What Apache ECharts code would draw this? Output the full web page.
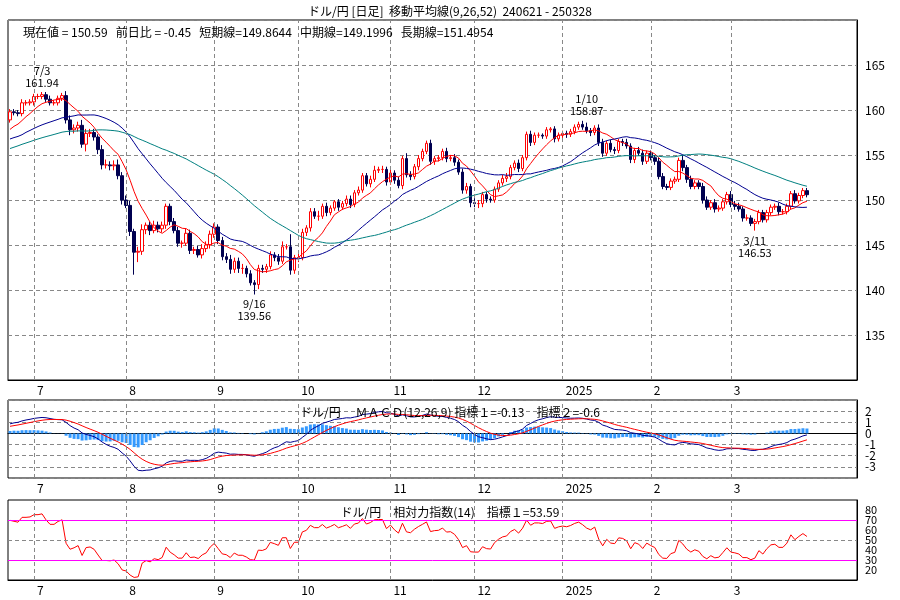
<!DOCTYPE html>
<html><head><meta charset="utf-8">
<script src="https://cdn.jsdelivr.net/npm/echarts@6/dist/echarts.min.js"></script>
<style>body{margin:0;background:#fff}#main{width:900px;height:600px}</style>
</head><body><div id="main"></div>
<script>
// closes before the visible range, only used to warm up the averages
var preCloses = [151.6,151.8,151.8,152.0,153.2,153.3,153.2,154.2,154.6,154.6,154.6,154.6,154.8,154.8,155.4,155.6,158.3,156.3,156.7,157.8,156.9,153.7,152.9,153.8,154.7,155.6,155.8,155.7,156.2,155.9,153.9,155.4,155.7,156.1,156.8,157.0,156.9,156.9,157.4,157.2,157.3,155.6,156.1,155.6,156.6,157.4,157.2,157.0,157.7,157.8,158.1,159.0];
var firstOpen = 158.9;
var closes = [
159.8,159.7,159.6,160.8,160.8,160.9,
161.5,161.5,161.7,161.2,160.8,160.8,161.3,161.6,158.9,157.8,158.0,158.3,156.2,157.4,157.5,157.0,155.6,153.9,153.9,153.8,153.9,152.7,150.0,
149.4,146.5,144.2,144.3,146.7,147.2,146.6,147.2,146.8,147.2,149.3,147.6,146.6,145.2,145.2,146.3,144.4,144.5,143.9,144.6,145.0,146.2,
147.0,145.5,143.7,143.4,142.3,143.2,142.4,142.4,141.8,140.8,140.6,142.4,142.3,142.6,143.9,143.6,143.2,144.8,144.8,142.2,143.6,
143.6,146.4,146.9,148.7,148.2,148.2,149.3,148.6,149.1,149.8,149.2,149.6,150.1,149.5,150.8,151.1,152.7,151.8,152.3,153.3,153.4,153.4,152.0,
153.0,152.2,151.6,154.6,152.8,152.6,153.7,154.6,155.4,156.3,154.3,154.6,154.7,155.4,154.6,154.7,154.2,153.1,151.1,151.5,149.7,
149.6,149.6,150.6,150.1,150.0,151.2,151.9,152.4,152.6,153.6,154.1,153.5,154.7,157.3,156.4,157.2,157.2,157.1,157.8,157.9,156.8,157.2,
157.4,157.3,157.6,158.1,158.4,158.1,157.7,157.5,158.0,156.4,155.2,156.3,155.6,155.5,156.5,156.4,156.0,154.5,155.5,155.2,154.3,155.2,
154.7,154.3,152.6,151.5,151.4,152.1,152.3,154.4,153.6,152.3,151.5,151.9,151.5,150.0,149.2,149.7,149.0,149.1,149.8,150.6,
149.5,149.3,149.0,148.0,148.0,147.4,147.6,148.6,147.8,148.6,149.2,149.3,148.7,148.7,149.3,150.7,149.9,150.5,151.04,150.59];
var wickUp = [
0.3,0.3,0.3,0.4,0.3,0.3,
0.3,0.3,0.3,0.3,0.4,0.3,0.3,0.3,0.5,0.5,0.4,0.4,0.6,0.5,0.4,0.4,0.3,0.5,0.6,0.4,0.5,0.6,0.4,
0.5,0.5,0.3,0.5,0.6,0.3,0.4,0.5,0.4,0.4,0.3,0.3,0.4,0.4,0.3,0.5,0.4,0.3,0.4,0.5,0.4,0.4,
0.4,0.3,0.4,0.4,0.5,0.4,0.4,0.5,0.3,0.4,0.3,0.4,0.4,0.3,0.4,0.3,0.4,0.6,0.3,1.4,0.3,
0.5,0.4,0.3,0.4,0.4,0.6,0.3,0.4,0.3,0.2,0.3,0.3,0.4,0.4,0.3,0.4,0.3,0.3,0.4,0.5,0.3,0.4,0.3,
0.4,0.3,0.4,0.3,0.6,0.4,0.3,0.4,0.3,0.3,0.4,0.3,0.3,0.3,0.4,0.3,0.4,0.3,0.4,0.4,0.3,
0.5,0.4,0.3,0.3,0.3,0.3,0.3,0.4,0.4,0.3,0.3,0.4,0.3,0.3,0.4,0.3,0.3,0.2,0.3,0.2,0.3,0.3,
0.3,0.3,0.3,0.3,0.3,0.4,0.5,0.3,0.3,0.4,0.4,0.3,0.4,0.3,0.3,0.3,0.4,0.3,0.3,0.4,0.4,0.3,
0.3,0.3,0.4,0.4,0.3,0.3,0.3,0.3,0.6,0.3,0.4,0.3,0.3,0.4,0.4,0.3,0.4,0.3,0.3,0.3,
0.4,0.4,0.4,0.3,0.4,0.3,0.3,0.3,0.3,0.3,0.3,0.3,0.4,0.3,0.3,0.3,0.4,0.3,0.3,0.3];
var wickDn = [
0.3,0.3,0.3,0.3,0.3,0.3,
0.4,0.3,0.3,0.3,0.3,0.3,0.3,0.3,0.4,0.6,0.4,0.4,0.4,0.8,0.4,0.4,0.5,0.5,0.4,0.5,0.5,0.4,0.5,
0.3,0.5,2.5,1.1,0.4,0.5,0.5,0.3,0.4,0.4,0.4,0.4,0.3,0.4,0.5,0.3,0.4,0.4,0.3,0.4,0.4,0.4,
0.4,0.4,0.4,0.4,0.5,0.4,0.5,0.6,0.4,0.3,1.1,0.5,0.4,0.4,0.3,0.4,0.4,0.3,0.3,0.5,0.4,
0.5,0.3,0.4,0.4,0.3,0.5,0.3,0.4,0.3,0.3,0.4,0.3,0.3,0.4,0.3,0.3,0.3,0.3,0.4,0.3,0.3,0.4,0.4,
0.3,0.4,0.3,0.4,0.3,0.4,0.3,0.4,0.3,0.3,0.4,0.4,0.3,0.3,0.4,0.3,0.4,0.3,0.4,0.4,0.5,
0.4,0.5,0.4,0.4,0.3,0.3,0.3,0.3,0.4,0.3,0.3,0.4,0.3,0.3,0.4,0.3,0.3,0.3,0.3,0.3,0.4,0.3,
0.3,0.4,0.3,0.3,0.3,0.3,0.3,0.4,0.3,0.4,0.4,0.3,0.3,0.4,0.3,0.4,0.3,0.4,0.4,0.3,0.4,0.3,
0.3,0.4,0.3,0.3,0.3,0.3,0.3,0.3,0.4,0.4,0.3,0.3,0.3,0.4,0.3,0.3,0.4,0.3,0.3,0.3,
0.3,0.4,0.3,0.4,0.3,0.3,0.8,0.3,0.3,0.3,0.3,0.3,0.4,0.3,0.3,0.3,0.3,0.3,0.3,0.3];
var annotations = [['7/3',161.94,'top'],['9/16',139.56,'bottom'],['1/10',158.87,'top'],['3/11',146.53,'bottom']];
var headerText = 'ドル/円 [日足]  移動平均線(9,26,52)  240621 - 250328';
var infoText = '現在値 = 150.59   前日比 = -0.45   短期線=149.8644   中期線=149.1996   長期線=151.4954';
var macdText = 'ドル/円　 ＭＡＣＤ(12,26,9) 指標１=-0.13　指標２=-0.6';
var rsiText = 'ドル/円　相対力指数(14)　指標１=53.59';
var padSlots = 12;

// dates: weekdays from 2024-06-21, skipping Jan 1
var dates = [];
var d = new Date(2024, 5, 21);
while (dates.length < closes.length) {
  var wd = d.getDay();
  if (wd !== 0 && wd !== 6 && !(d.getMonth() === 0 && d.getDate() === 1)) {
    dates.push((d.getMonth() + 1) + '/' + d.getDate() + '/' + d.getFullYear());
  }
  d.setDate(d.getDate() + 1);
}
var cats = dates.slice();
for (var p = 0; p < padSlots; p++) cats.push('pad' + p);
var monthStart = {};
for (var i = 1; i < dates.length; i++) {
  var m = dates[i].split('/')[0];
  if (m !== dates[i - 1].split('/')[0]) monthStart[i] = m === '1' ? '2025' : m;
}

var ohlc = [];
for (var i = 0; i < closes.length; i++) {
  var o = i === 0 ? firstOpen : closes[i - 1];
  var hi = Math.max(o, closes[i]) + wickUp[i];
  var lo = Math.min(o, closes[i]) - wickDn[i];
  ohlc.push([o, closes[i], lo, hi]);
}
var all = preCloses.concat(closes), off = preCloses.length;
function ma(n) {
  var r = [];
  for (var i = 0; i < closes.length; i++) {
    var s = 0, k = i + off;
    for (var j = k - n + 1; j <= k; j++) s += all[Math.max(j, 0)];
    r.push(+(s / n).toFixed(3));
  }
  return r;
}
function ema(arr, n) {
  var a = 2 / (n + 1), r = [arr[0]];
  for (var i = 1; i < arr.length; i++) r.push(r[i - 1] + a * (arr[i] - r[i - 1]));
  return r;
}
var e12 = ema(all, 12), e26 = ema(all, 26);
var dif = all.map(function (v, i) { return e12[i] - e26[i]; });
var dea = ema(dif, 9);
var difV = dif.slice(off).map(function (v) { return +v.toFixed(3); });
var deaV = dea.slice(off).map(function (v) { return +v.toFixed(3); });
var histV = difV.map(function (v, i) { return +(v - deaV[i]).toFixed(3); });
// Wilder RSI(14)
var ag = 0, al = 0, rsiAll = [];
for (var j = 1; j < all.length; j++) {
  var ch = all[j] - all[j - 1], g = ch > 0 ? ch : 0, l = ch < 0 ? -ch : 0;
  if (j <= 14) { ag += g / 14; al += l / 14; } else { ag = (ag * 13 + g) / 14; al = (al * 13 + l) / 14; }
  rsiAll[j] = 100 * ag / (ag + al);
}
var rsiV = rsiAll.slice(off).map(function (v) { return +v.toFixed(2); });

var font = '"Noto Sans CJK JP", sans-serif';
var monthLines = Object.keys(monthStart).map(function (k) { return { xAxis: +k }; });
function xAx(gi) {
  return {
    type: 'category', gridIndex: gi, data: cats, boundaryGap: true,
    axisLine: { lineStyle: { color: '#000' } }, axisTick: { show: false },
    axisLabel: {
      color: '#000', fontFamily: font, fontSize: 12, margin: 4, align: 'left', padding: [0, 0, 0, 3],
      interval: function (idx) { return monthStart[idx] !== undefined; },
      formatter: function (v, idx) { return monthStart[idx] || ''; }
    },
    splitLine: { show: false }
  };
}
var gridLine = { color: '#888', type: [4, 3], width: 1 };
var ttl = function (t, left, top) {
  return { text: t, left: left, top: top, textStyle: { fontSize: 12, fontWeight: 'normal', color: '#000', fontFamily: font } };
};
var chart = echarts.init(document.getElementById('main'));
chart.setOption({
  animation: false,
  backgroundColor: '#fff',
  textStyle: { fontFamily: font },
  title: [ttl(headerText, 'center', 0), ttl(infoText, 18, 21), ttl(macdText, 'center', 401), ttl(rsiText, 'center', 501)],
  grid: [
    { left: 8, right: 43, top: 20, height: 360, show: true, borderColor: '#000', borderWidth: 1 },
    { left: 8, right: 43, top: 400, height: 78, show: true, borderColor: '#000', borderWidth: 1 },
    { left: 8, right: 43, top: 500, height: 80, show: true, borderColor: '#000', borderWidth: 1 }
  ],
  xAxis: [xAx(0), xAx(1), xAx(2)],
  yAxis: [
    { type: 'value', gridIndex: 0, position: 'right', min: 130, max: 170, interval: 5,
      axisLine: { show: true, lineStyle: { color: '#000' } }, axisTick: { show: false },
      axisLabel: { color: '#000', fontSize: 12, fontFamily: font, margin: 8,
        formatter: function (v) { return v > 130 && v < 170 ? v : ''; } },
      splitLine: { show: true, lineStyle: gridLine } },
    { type: 'value', gridIndex: 1, position: 'right', min: -4, max: 3, interval: 1,
      axisLine: { show: true, lineStyle: { color: '#000' } }, axisTick: { show: false },
      axisLabel: { color: '#000', fontSize: 12, fontFamily: font, margin: 8, lineHeight: 10,
        formatter: function (v) { return v > -4 && v < 3 ? v : ''; } },
      splitLine: { show: true, lineStyle: gridLine } },
    { type: 'value', gridIndex: 2, position: 'right', min: 10, max: 90, interval: 10,
      axisLine: { show: true, lineStyle: { color: '#000' } }, axisTick: { show: false },
      axisLabel: { color: '#000', fontSize: 11, lineHeight: 10, fontFamily: font, margin: 8,
        formatter: function (v) { return v > 10 && v < 90 ? v : ''; } },
      splitLine: { show: false } }
  ],
  series: [
    { type: 'candlestick', xAxisIndex: 0, yAxisIndex: 0, data: ohlc, barWidth: 3,
      itemStyle: { color: '#fff', color0: '#000050', borderColor: '#ff0000', borderColor0: '#000050', borderWidth: 1 },
      markLine: { silent: true, symbol: 'none', label: { show: false }, lineStyle: gridLine, data: monthLines },
      markPoint: { symbol: 'circle', symbolSize: 1, itemStyle: { color: 'transparent' },
        data: annotations.map(function (a) {
          var idx = dates.indexOf(a[0] + '/' + (a[0].split('/')[0] < 6 ? 2025 : 2024));
          return { coord: [idx, a[1]], value: a[0] + '\n' + a[1].toFixed(2),
            label: { show: true, position: a[2], distance: 3, color: '#000', fontSize: 11, lineHeight: 12, fontFamily: font,
              formatter: function (p) { return p.value; } } };
        }) } },
    { type: 'line', xAxisIndex: 0, yAxisIndex: 0, data: ma(9), showSymbol: false, lineStyle: { color: '#ff0000', width: 1 } },
    { type: 'line', xAxisIndex: 0, yAxisIndex: 0, data: ma(26), showSymbol: false, lineStyle: { color: '#000090', width: 1 } },
    { type: 'line', xAxisIndex: 0, yAxisIndex: 0, data: ma(52), showSymbol: false, lineStyle: { color: '#008080', width: 1 } },
    { type: 'bar', xAxisIndex: 1, yAxisIndex: 1, data: histV, barWidth: 3, itemStyle: { color: '#3399ff' },
      markLine: { silent: true, symbol: 'none', label: { show: false }, lineStyle: gridLine, data: monthLines } },
    { type: 'line', xAxisIndex: 1, yAxisIndex: 1, data: difV, showSymbol: false, lineStyle: { color: '#000090', width: 1 } },
    { type: 'line', xAxisIndex: 1, yAxisIndex: 1, data: deaV, showSymbol: false, lineStyle: { color: '#ff0000', width: 1 } },
    { type: 'line', xAxisIndex: 2, yAxisIndex: 2, data: rsiV, showSymbol: false, lineStyle: { color: '#ff0000', width: 1 },
      markLine: { silent: true, symbol: 'none', label: { show: false },
        data: monthLines.map(function (m) { return { xAxis: m.xAxis, lineStyle: gridLine }; }).concat([
          { yAxis: 70, lineStyle: { color: '#ff00ff', type: 'solid', width: 1 } },
          { yAxis: 30, lineStyle: { color: '#ff00ff', type: 'solid', width: 1 } },
          { yAxis: 50, lineStyle: gridLine }]) } }
  ]
});
</script></body></html>
